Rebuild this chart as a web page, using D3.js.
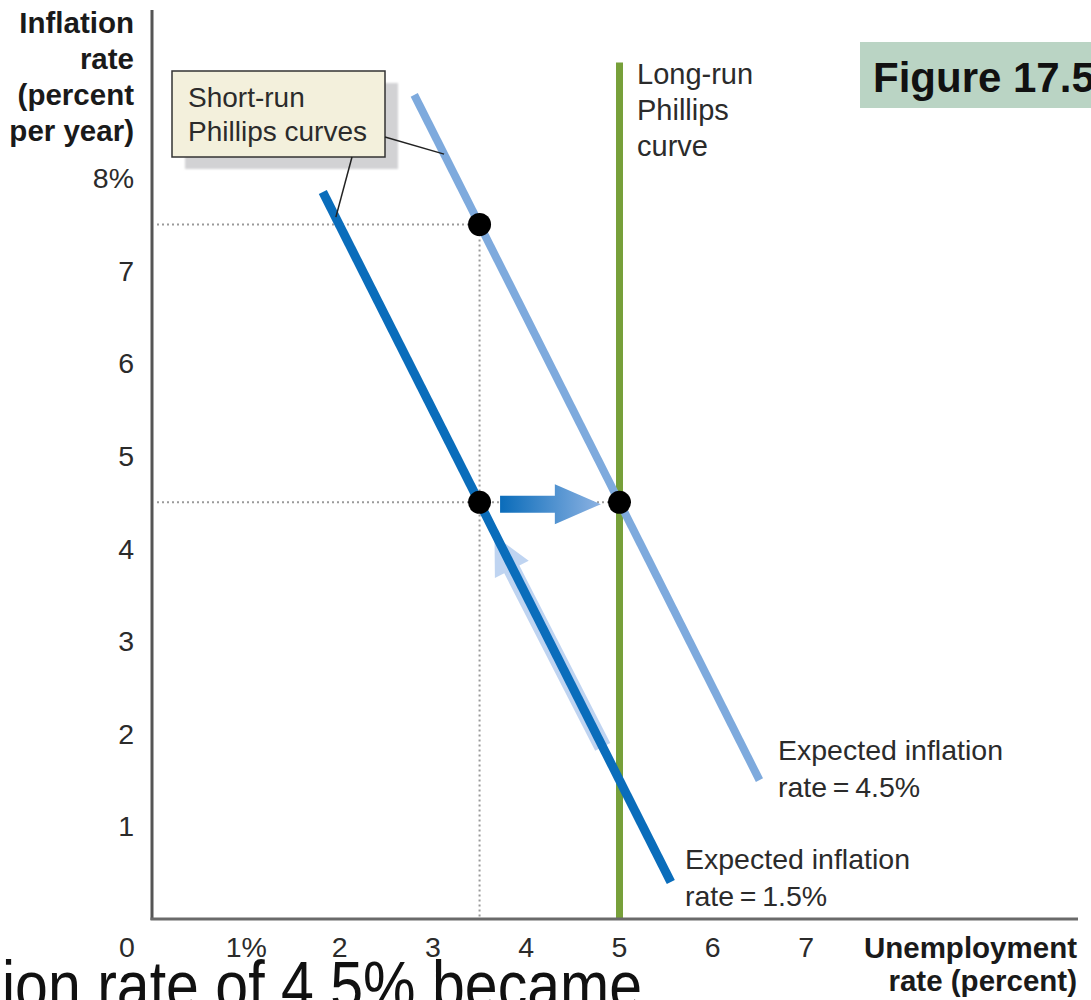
<!DOCTYPE html>
<html>
<head>
<meta charset="utf-8">
<script src="https://cdn.jsdelivr.net/npm/d3@7"></script>
<style>
  html, body { margin: 0; padding: 0; background: #fff; }
  svg { display: block; font-family: "Liberation Sans", Arial, Helvetica, sans-serif; }
</style>
</head>
<body>
<svg id="chart" width="1091" height="1000"></svg>
<script>
// Unemployment-rate ticks (x) and inflation-rate ticks (y)
const xTickValues = [1, 2, 3, 4, 5, 6, 7];
const xTickLabels = ["1%", "2", "3", "4", "5", "6", "7"];
const yTickValues = [1, 2, 3, 4, 5, 6, 7, 8];
const yTickLabels = ["1", "2", "3", "4", "5", "6", "7", "8%"];

// Short-run Phillips curves (unemployment %, inflation %)
const srpcLow = [{ u: 1.82, pi: 7.85 }, { u: 5.55, pi: 0.4 }];   // expected inflation 1.5%
const srpcHigh = [{ u: 2.8, pi: 8.9 }, { u: 6.5, pi: 1.5 }];     // expected inflation 4.5%

// Long-run Phillips curve at the natural rate
const naturalRate = 5;
const lrpcTop = 9.25;

// Equilibrium points
const points = [{ u: 3.5, pi: 7.5 }, { u: 3.5, pi: 4.5 }, { u: 5, pi: 4.5 }];

// Movement arrows
const moveRight = [{ u: 3.72, pi: 4.48 }, { u: 4.8, pi: 4.48 }];
const moveUp = [{ u: 4.82, pi: 1.86 }, { u: 3.66, pi: 4.14 }];

const svg = d3.select("#chart");
const x = d3.scaleLinear().domain([0, 7]).range([153, 153 + 7 * 93.3]);
const y = d3.scaleLinear().domain([0, 8]).range([919, 919 - 8 * 92.6]);

const textColor = "#2b2b2b";

// Gradients and filters
const defs = svg.append("defs");
const gRight = defs.append("linearGradient").attr("id", "gradRight")
  .attr("x1", "0%").attr("x2", "100%").attr("y1", "0%").attr("y2", "0%");
gRight.append("stop").attr("offset", "0%").attr("stop-color", "#0a6cba");
gRight.append("stop").attr("offset", "100%").attr("stop-color", "#8cb2e2");

const shadow = defs.append("filter").attr("id", "soft");
shadow.append("feGaussianBlur").attr("stdDeviation", 1.2);

// Dotted guide lines
const guide = svg.append("g").attr("stroke", "#9a9a9a").attr("stroke-width", 2)
  .attr("stroke-dasharray", "2,3").attr("fill", "none");
guide.append("line").attr("x1", x(0) + 4).attr("x2", x(3.5)).attr("y1", y(7.5)).attr("y2", y(7.5));
guide.append("line").attr("x1", x(3.5)).attr("x2", x(3.5)).attr("y1", y(7.5)).attr("y2", y(0));

// Block arrow outline between two pixel points
function arrowPath(p0, p1, shaft, headW, headL) {
  const dx = p1[0] - p0[0], dy = p1[1] - p0[1];
  const len = Math.hypot(dx, dy);
  const ux = dx / len, uy = dy / len;
  const px = -uy, py = ux;
  const bx = p1[0] - ux * headL, by = p1[1] - uy * headL;
  const pts = [
    [p0[0] + px * shaft / 2, p0[1] + py * shaft / 2],
    [bx + px * shaft / 2, by + py * shaft / 2],
    [bx + px * headW / 2, by + py * headW / 2],
    [p1[0], p1[1]],
    [bx - px * headW / 2, by - py * headW / 2],
    [bx - px * shaft / 2, by - py * shaft / 2],
    [p0[0] - px * shaft / 2, p0[1] - py * shaft / 2]
  ];
  return "M" + pts.map(p => p.join(",")).join("L") + "Z";
}

// Pale arrow: movement up along the short-run curve (drawn beneath it)
svg.append("path")
  .attr("d", arrowPath([x(moveUp[0].u), y(moveUp[0].pi)], [x(moveUp[1].u), y(moveUp[1].pi)], 17, 38, 38))
  .attr("fill", "#bcd2f0").attr("opacity", 0.95);

// Long-run Phillips curve
svg.append("line")
  .attr("x1", x(naturalRate)).attr("x2", x(naturalRate))
  .attr("y1", y(lrpcTop)).attr("y2", y(0))
  .attr("stroke", "#77a03a").attr("stroke-width", 7);

// Short-run Phillips curves
const line = d3.line().x(d => x(d.u)).y(d => y(d.pi));
svg.append("path").datum(srpcHigh).attr("d", line)
  .attr("stroke", "#7eaadd").attr("stroke-width", 8).attr("fill", "none");
svg.append("path").datum(srpcLow).attr("d", line)
  .attr("stroke", "#0a6dbb").attr("stroke-width", 9).attr("fill", "none");

// Horizontal arrow: shift to the natural rate
svg.append("path")
  .attr("d", arrowPath([x(moveRight[0].u), y(moveRight[0].pi)], [x(moveRight[1].u), y(moveRight[1].pi)], 17, 40, 46))
  .attr("fill", "url(#gradRight)");

guide.append("line").attr("x1", x(0) + 4).attr("x2", x(5)).attr("y1", y(4.5)).attr("y2", y(4.5));

// Equilibrium dots
svg.append("g").selectAll("circle").data(points).join("circle")
  .attr("cx", d => x(d.u)).attr("cy", d => y(d.pi)).attr("r", 11.5)
  .attr("fill", "#000");

// Axes
svg.append("line").attr("x1", 152).attr("x2", 152).attr("y1", 10).attr("y2", 920)
  .attr("stroke", "#555").attr("stroke-width", 3);
svg.append("line").attr("x1", 150.5).attr("x2", 1078).attr("y1", 919).attr("y2", 919)
  .attr("stroke", "#6a6a6a").attr("stroke-width", 3);

// Tick labels
svg.append("g").selectAll("text").data(xTickValues).join("text")
  .attr("x", d => x(d)).attr("y", 957)
  .attr("text-anchor", "middle").attr("font-size", 28.5).attr("fill", textColor)
  .text((d, i) => xTickLabels[i]);
svg.append("text").attr("x", 127).attr("y", 957).attr("text-anchor", "middle")
  .attr("font-size", 28.5).attr("fill", textColor).text("0");
svg.append("g").selectAll("text").data(yTickValues).join("text")
  .attr("x", 134).attr("y", d => y(d) + 10)
  .attr("text-anchor", "end").attr("font-size", 28.5).attr("fill", textColor)
  .text((d, i) => yTickLabels[i]);

// Axis titles
const yTitle = svg.append("text").attr("text-anchor", "end").attr("font-size", 29.5)
  .attr("font-weight", "bold").attr("fill", "#1a1a1a");
["Inflation", "rate", "(percent", "per year)"].forEach((t, i) =>
  yTitle.append("tspan").attr("x", 134).attr("y", 33 + i * 36).text(t));
const xTitle = svg.append("text").attr("text-anchor", "end").attr("font-size", 29.5)
  .attr("font-weight", "bold").attr("fill", "#1a1a1a");
["Unemployment", "rate (percent)"].forEach((t, i) =>
  xTitle.append("tspan").attr("x", 1077).attr("y", 958 + i * 33).text(t));

// Short-run label box with leader lines
svg.append("rect").attr("x", 185).attr("y", 83).attr("width", 213).attr("height", 86)
  .attr("fill", "#d2d2d4").attr("filter", "url(#soft)");
svg.append("rect").attr("x", 172).attr("y", 71).attr("width", 213).attr("height", 86)
  .attr("fill", "#f3f0dc").attr("stroke", "#333").attr("stroke-width", 1.5);
const boxText = svg.append("text").attr("font-size", 28).attr("fill", textColor);
["Short-run", "Phillips curves"].forEach((t, i) =>
  boxText.append("tspan").attr("x", 188).attr("y", 107 + i * 34).text(t));
const leader = svg.append("g").attr("stroke", "#222").attr("stroke-width", 1.5);
leader.append("line").attr("x1", 352).attr("y1", 157).attr("x2", x(1.96)).attr("y2", y(4.5 + 2 * (3.5 - 1.96)));
leader.append("line").attr("x1", 385).attr("y1", 137).attr("x2", x(3.12)).attr("y2", y(7.5 + 2 * (3.5 - 3.12)));

// Long-run label
const lrText = svg.append("text").attr("font-size", 29).attr("fill", textColor);
["Long-run", "Phillips", "curve"].forEach((t, i) =>
  lrText.append("tspan").attr("x", 637).attr("y", 84 + i * 36).text(t));

// Expected-inflation labels
const e45 = svg.append("text").attr("font-size", 28.5).attr("fill", textColor);
["Expected inflation", "rate\u2009=\u20094.5%"].forEach((t, i) =>
  e45.append("tspan").attr("x", 778).attr("y", 760 + i * 37).text(t));
const e15 = svg.append("text").attr("font-size", 28.5).attr("fill", textColor);
["Expected inflation", "rate\u2009=\u20091.5%"].forEach((t, i) =>
  e15.append("tspan").attr("x", 685).attr("y", 869 + i * 37).text(t));

// Figure tag
svg.append("rect").attr("x", 860).attr("y", 42).attr("width", 240).attr("height", 66)
  .attr("fill", "#bad4c4");
svg.append("text").attr("x", 873).attr("y", 92).attr("font-size", 42)
  .attr("font-weight", "bold").attr("fill", "#111").text("Figure 17.5");

// Caption line running off the bottom edge
svg.append("text").attr("x", 2).attr("y", 1009).attr("font-size", 68)
  .attr("fill", "#111").attr("textLength", 640).attr("lengthAdjust", "spacingAndGlyphs")
  .text("ion rate of 4.5% became");
</script>
</body>
</html>
